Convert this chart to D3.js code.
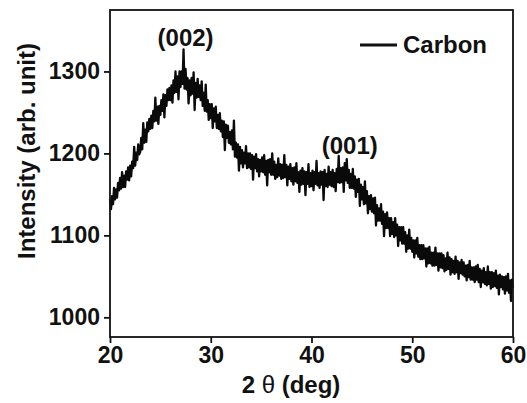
<!DOCTYPE html>
<html>
<head>
<meta charset="utf-8">
<script src="https://d3js.org/d3.v7.min.js"></script>
<style>
  body { margin: 0; background: #fff; }
  svg text { font-family: "Liberation Sans", Arial, sans-serif; font-weight: bold; fill: #111; }
</style>
</head>
<body>
<svg id="chart" width="527" height="403"></svg>
<script>
// x range of the scan (2 theta, deg) and sampling step
var thetaStart = 20;
var thetaStep = 0.1;

// intensity, one row per degree (20.0 .. 59.9) plus the end point
var intensity = [
  1144,1132,1148,1138,1158,1144,1156,1146,1164,1155,
  1170,1157,1177,1159,1173,1159,1178,1168,1183,1167,
  1185,1172,1190,1182,1208,1185,1201,1192,1211,1199,
  1202,1219,1205,1237,1213,1229,1214,1238,1227,1242,
  1230,1246,1231,1252,1239,1268,1240,1257,1236,1258,
  1247,1265,1252,1272,1244,1271,1258,1278,1265,1280,
  1265,1283,1262,1289,1274,1300,1275,1294,1266,1300,
  1281,1300,1285,1327,1279,1303,1278,1292,1261,1289,
  1271,1292,1273,1299,1253,1286,1268,1291,1269,1283,
  1265,1288,1258,1274,1252,1284,1251,1265,1241,1260,
  1243,1260,1231,1255,1239,1257,1231,1247,1230,1249,
  1227,1240,1220,1239,1204,1235,1219,1234,1213,1226,
  1211,1228,1205,1240,1196,1213,1195,1211,1179,1208,
  1188,1204,1183,1201,1188,1209,1182,1200,1183,1200,
  1181,1198,1168,1196,1182,1199,1178,1193,1172,1192,
  1178,1195,1177,1198,1174,1191,1161,1192,1177,1193,
  1174,1200,1174,1190,1169,1186,1171,1194,1173,1187,
  1169,1186,1170,1198,1171,1186,1161,1184,1169,1187,
  1166,1182,1162,1183,1166,1188,1164,1177,1153,1179,
  1162,1182,1163,1178,1149,1177,1163,1187,1159,1176,
  1160,1179,1155,1177,1163,1191,1161,1176,1158,1178,
  1162,1177,1143,1180,1160,1175,1159,1184,1162,1177,
  1160,1180,1159,1176,1154,1181,1165,1197,1164,1182,
  1165,1183,1153,1188,1167,1193,1164,1180,1158,1175,
  1158,1181,1157,1172,1147,1168,1153,1169,1136,1162,
  1144,1159,1138,1166,1139,1154,1127,1148,1132,1149,
  1129,1145,1127,1146,1112,1137,1118,1133,1118,1138,
  1114,1129,1099,1126,1109,1128,1109,1121,1099,1121,
  1102,1116,1098,1121,1100,1113,1087,1110,1094,1110,
  1090,1110,1090,1104,1080,1100,1084,1107,1084,1097,
  1080,1094,1073,1094,1078,1097,1074,1088,1071,1088,
  1071,1088,1072,1084,1062,1084,1066,1086,1066,1079,
  1063,1079,1063,1085,1064,1078,1057,1078,1061,1078,
  1060,1076,1056,1072,1058,1079,1059,1073,1052,1071,
  1055,1069,1053,1074,1055,1069,1047,1067,1054,1070,
  1052,1067,1050,1063,1045,1064,1049,1069,1046,1061,
  1046,1061,1043,1062,1046,1064,1043,1059,1037,1057,
  1043,1060,1041,1055,1039,1062,1041,1055,1035,1055,
  1037,1054,1038,1057,1036,1051,1028,1052,1037,1050,
  1034,1049,1029,1050,1033,1053,1030,1045,1020,1046,
  1036
];

var xTicks = [20, 30, 40, 50, 60];
var yTicks = [1000, 1100, 1200, 1300];

// peak labels
var peaks = [
  { label: '(002)', theta: 27.5, value: 1331 },
  { label: '(001)', theta: 43.8, value: 1199 }
];

var seriesName = 'Carbon';

var data = intensity.map(function(v, i) {
  return { x: thetaStart + i * thetaStep, y: v };
});

var svg = d3.select('#chart');
var plot = { left: 110, top: 10, right: 513, bottom: 337 };

var x = d3.scaleLinear().domain([20, 60]).range([plot.left, plot.right]);
var y = d3.scaleLinear().domain([976, 1375]).range([plot.bottom, plot.top]);

//trace
svg.append('path')
  .datum(data)
  .attr('fill', 'none')
  .attr('stroke', '#0a0a0a')
  .attr('stroke-width', 2.3)
  .attr('stroke-linejoin', 'round')
  .attr('d', d3.line().x(function(d) { return x(d.x); }).y(function(d) { return y(d.y); }));

//frame
svg.append('rect')
  .attr('x', plot.left)
  .attr('y', plot.top)
  .attr('width', plot.right - plot.left)
  .attr('height', plot.bottom - plot.top)
  .attr('fill', 'none')
  .attr('stroke', '#111')
  .attr('stroke-width', 1.8);

//x axis
var xAxis = svg.append('g')
  .attr('transform', 'translate(0,' + plot.bottom + ')')
  .call(d3.axisBottom(x).tickValues(xTicks).tickSize(6).tickPadding(4).tickFormat(d3.format('d')));

//y axis
var yAxis = svg.append('g')
  .attr('transform', 'translate(' + plot.left + ',0)')
  .call(d3.axisLeft(y).tickValues(yTicks).tickSize(6).tickPadding(4).tickFormat(d3.format('d')));

[xAxis, yAxis].forEach(function(g) {
  g.select('.domain').remove();
  g.selectAll('.tick line').attr('stroke', '#111').attr('stroke-width', 1.8);
  g.selectAll('.tick text')
    .attr('fill', '#111')
    .style('font-family', '"Liberation Sans", Arial, sans-serif')
    .style('font-weight', 'bold')
    .style('font-size', '23px');
});

//axis titles
var xTitle = svg.append('text')
  .attr('x', 291)
  .attr('y', 393)
  .attr('text-anchor', 'middle')
  .style('font-size', '24px');
xTitle.append('tspan').text('2 ');
xTitle.append('tspan').style('font-weight', 'normal').text('\u03b8');
xTitle.append('tspan').text(' (deg)');

svg.append('text')
  .attr('transform', 'translate(35,151) rotate(-90)')
  .attr('text-anchor', 'middle')
  .style('font-size', '24px')
  .text('Intensity (arb. unit)');

//peak labels
svg.selectAll('.peak')
  .data(peaks)
  .enter().append('text')
  .attr('class', 'peak')
  .attr('x', function(d) { return x(d.theta); })
  .attr('y', function(d) { return y(d.value); })
  .attr('text-anchor', 'middle')
  .style('font-size', '24px')
  .text(function(d) { return d.label; });

//legend
svg.append('line')
  .attr('x1', 360)
  .attr('y1', 45)
  .attr('x2', 397)
  .attr('y2', 45)
  .attr('stroke', '#111')
  .attr('stroke-width', 3);

svg.append('text')
  .attr('x', 403)
  .attr('y', 53)
  .style('font-size', '24px')
  .text(seriesName);
</script>
</body>
</html>
